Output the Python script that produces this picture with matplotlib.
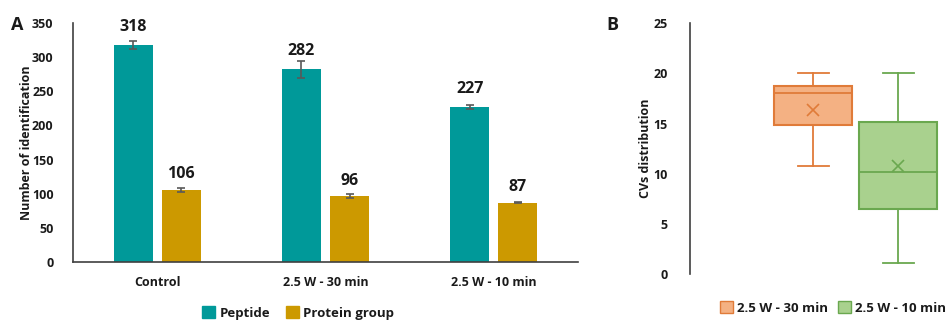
import matplotlib
matplotlib.use("Agg")
import matplotlib.pyplot as plt
import numpy as np
from matplotlib.patches import Patch

plt.rcParams['font.family'] = ['Open Sans', 'DejaVu Sans']
plt.rcParams['font.weight'] = 'bold'

# Panel A data
categories = ["Control", "2.5 W - 30 min", "2.5 W - 10 min"]
peptide = [318, 282, 227]
peptide_err = [6, 12, 3]
protein = [106, 96, 87]
protein_err = [3, 3, 1]

# Panel B data (box stats)
box_labels = ["2.5 W - 30 min", "2.5 W - 10 min"]
whislo = [10.8, 1.1]
q1 = [14.85, 6.5]
med = [18.0, 10.2]
q3 = [18.75, 15.2]
whishi = [20.0, 20.0]
means = [16.4, 10.8]

teal = "#009999"
gold = "#CC9900"
orange_face = "#F4B183"
orange_edge = "#E07B39"
green_face = "#A9D18E"
green_edge = "#6AA84F"
axis_col = "#404040"
txt = "#1a1a1a"

fig = plt.figure(figsize=(9.49, 3.2), dpi=100)

# ---------- Panel A ----------
W, H = 949, 320
axA = fig.add_axes([73 / W, (H - 262) / H, 505 / W, 239 / H])
x = np.arange(len(categories))
bw = 0.232
off = 0.143
axA.bar(x - off, peptide, bw, color=teal, yerr=peptide_err,
        error_kw=dict(ecolor="#595959", elinewidth=1.2, capsize=3, capthick=1.2))
axA.bar(x + off, protein, bw, color=gold, yerr=protein_err,
        error_kw=dict(ecolor="#595959", elinewidth=1.2, capsize=3, capthick=1.2))
for xi, v, e in zip(x, peptide, peptide_err):
    axA.text(xi - off, v + 15, str(v), ha="center", va="bottom",
             fontsize=11.5, fontweight="bold", color=txt)
for xi, v, e in zip(x, protein, protein_err):
    axA.text(xi + off, v + 11, str(v), ha="center", va="bottom",
             fontsize=11.5, fontweight="bold", color=txt)
axA.set_xlim(-0.5, 2.5)
axA.set_ylim(0, 350)
axA.set_yticks(range(0, 351, 50))
axA.set_xticks(x)
axA.set_xticklabels(categories, fontsize=9, fontweight="bold", color=txt)
axA.tick_params(axis="both", length=0, labelsize=9)
axA.tick_params(axis="x", pad=10)
axA.tick_params(axis="y", pad=14)
for lab in axA.get_yticklabels():
    lab.set_fontweight("bold")
    lab.set_color(txt)
for s in ["top", "right"]:
    axA.spines[s].set_visible(False)
for s in ["left", "bottom"]:
    axA.spines[s].set_color(axis_col)
    axA.spines[s].set_linewidth(1.2)
axA.set_ylabel("Number of identification", fontsize=9, fontweight="bold", color=txt)
axA.yaxis.set_label_coords(-0.08, 0.5)
fig.text(17 / W, 1 - 25 / H, "A", fontsize=13, fontweight="bold", ha="center", va="center", color=txt)
legA = fig.legend(handles=[Patch(color=teal, label="Peptide"), Patch(color=gold, label="Protein group")],
                  loc="center", bbox_to_anchor=(298 / W, 1 - 313 / H), ncol=2, frameon=False,
                  fontsize=9.5, handlelength=1.0, handleheight=1.0, handletextpad=0.3, columnspacing=1.2)
for t in legA.get_texts():
    t.set_fontweight("bold")
    t.set_color(txt)

# ---------- Panel B ----------
axB = fig.add_axes([690 / W, (H - 274) / H, 255 / W, (274 - 23.3) / H])
stats = []
for i in range(2):
    stats.append(dict(label=box_labels[i], whislo=whislo[i], q1=q1[i], med=med[i],
                      q3=q3[i], whishi=whishi[i], mean=means[i], fliers=[]))
faces = [orange_face, green_face]
edges = [orange_edge, green_edge]
for i, st in enumerate(stats):
    axB.bxp([st], positions=[i], widths=0.92, patch_artist=True, showmeans=True,
            showfliers=False,
            boxprops=dict(facecolor=faces[i], edgecolor=edges[i], linewidth=1.5),
            medianprops=dict(color=edges[i], linewidth=1.3),
            whiskerprops=dict(color=edges[i], linewidth=1.3),
            capprops=dict(color=edges[i], linewidth=1.3),
            capwidths=0.36,
            meanprops=dict(marker="x", markeredgecolor=edges[i], markersize=8, markeredgewidth=1.2))
axB.set_xlim(-1.45, 1.55)
axB.set_ylim(0, 25)
axB.set_yticks(range(0, 26, 5))
axB.set_xticks([])
axB.tick_params(axis="y", length=0, labelsize=9, pad=16)
for lab in axB.get_yticklabels():
    lab.set_fontweight("bold")
    lab.set_color(txt)
for s in ["top", "right", "bottom"]:
    axB.spines[s].set_visible(False)
axB.spines["left"].set_color(axis_col)
axB.spines["left"].set_linewidth(1.2)
axB.set_ylabel("CVs distribution", fontsize=9, fontweight="bold", color=txt)
axB.yaxis.set_label_coords(-0.15, 0.5)
fig.text(612 / W, 1 - 25 / H, "B", fontsize=13, fontweight="bold", ha="center", va="center", color=txt)
legB = fig.legend(handles=[Patch(facecolor=orange_face, edgecolor=orange_edge, label=box_labels[0]),
                           Patch(facecolor=green_face, edgecolor=green_edge, label=box_labels[1])],
                  loc="center", bbox_to_anchor=(833 / W, 1 - 308 / H), ncol=2, frameon=False,
                  fontsize=9.5, handlelength=1.0, handleheight=1.0, handletextpad=0.3, columnspacing=0.8)
for t in legB.get_texts():
    t.set_fontweight("bold")
    t.set_color(txt)

fig.savefig("out.png", dpi=100)
